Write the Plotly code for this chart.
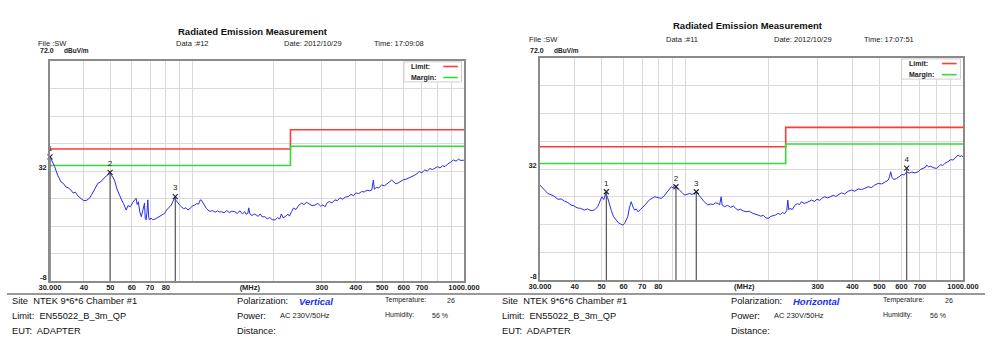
import plotly.graph_objects as go
import math

W, H = 994, 356

# ---------------- data ----------------
freq_v = [30.0, 30.5, 31.2, 32.0, 32.9, 33.6, 34.3, 35.0, 35.8, 36.5, 37.2, 38.0, 39.0, 39.8, 40.7,
          41.3, 41.9, 42.8, 43.9, 45.0, 46.0, 47.2, 48.3, 49.0, 49.7, 50.5, 51.8, 52.9, 54.1, 55.0,
          55.9, 57.2, 58.1, 59.3, 60.5, 61.4, 62.2, 62.8, 63.4, 64.2, 65.0, 65.8, 66.8, 67.2, 67.7,
          68.2, 68.7, 69.2, 69.7, 70.5, 71.5, 72.7, 74.0, 75.5, 77.2, 79.2, 80.5, 81.8, 83.8, 85.0,
          86.3, 87.5, 88.8, 90.0, 91.5, 93.0, 94.8, 96.5, 98.5, 100.4, 102.2, 104.0, 105.5, 107.0,
          108.0, 109.5, 111.2, 112.8, 114.4, 116.5, 119.0, 121.5, 124.0, 126.0, 128.0, 131.0, 134.0,
          137.0, 140.0, 143.3, 146.5, 150.0, 153.0, 156.0, 158.0, 160.3, 161.5, 163.0, 166.0, 169.0,
          172.0, 175.0, 178.0, 181.0, 185.0, 189.0, 193.0, 197.0, 202.0, 206.0, 210.0, 213.0, 216.0,
          220.0, 225.0, 228.0, 232.0, 236.0, 241.0, 247.0, 253.0, 258.0, 264.0, 270.0, 276.0, 283.0,
          290.0, 297.0, 303.0, 308.0, 314.0, 320.0, 327.0, 335.0, 342.0, 350.0, 357.0, 366.0, 375.0,
          384.0, 392.0, 400.0, 410.0, 420.0, 430.0, 440.0, 450.0, 458.0, 464.0, 468.0, 476.0, 486.0,
          498.0, 510.0, 520.0, 530.0, 542.0, 552.0, 562.0, 573.0, 585.0, 598.0, 612.0, 627.0, 642.0,
          656.0, 670.0, 684.0, 700.0, 718.0, 733.0, 750.0, 765.0, 782.0, 800.0, 816.0, 834.0, 852.0,
          872.0, 893.0, 914.0, 935.0, 955.0, 975.0, 995.0, 1000.0]
level_v = [37.2, 35.8, 33.6, 30.5, 28.1, 27.5, 26.2, 25.9, 25.1, 24.0, 24.3, 22.9, 22.1, 21.3, 21.2,
           21.8, 22.1, 23.6, 25.5, 27.5, 28.0, 29.3, 30.2, 30.6, 31.7, 30.5, 28.7, 25.4, 22.7, 21.5,
           20.2, 17.8, 19.4, 19.0, 20.6, 21.6, 22.1, 19.8, 20.8, 17.1, 15.4, 17.5, 20.3, 14.8, 14.2,
           17.0, 21.5, 15.2, 14.2, 14.9, 14.3, 14.4, 14.9, 15.5, 16.0, 16.6, 17.8, 18.6, 19.6, 21.0,
           22.1, 21.2, 20.2, 19.6, 18.9, 18.3, 18.6, 17.8, 18.5, 19.3, 19.6, 20.2, 19.9, 21.4,
           21.5, 20.4, 19.0, 18.4, 17.8, 17.3, 17.6, 17.0, 17.5, 17.1, 17.2, 16.8, 17.6,
           16.9, 17.4, 17.2, 16.6, 17.5, 16.4, 17.2, 16.3, 16.6, 18.6, 16.5, 15.8, 16.4,
           16.0, 15.5, 16.4, 15.3, 15.4, 14.6, 15.1, 14.3, 14.2, 15.0, 14.6, 16.4, 15.0,
           15.4, 16.3, 15.6, 17.2, 18.5, 18.0, 19.6, 20.3, 19.8, 20.6, 20.0, 19.4, 19.6,
           20.2, 19.2, 19.7, 19.0, 20.5, 20.9, 20.4, 21.5, 21.2, 22.3, 21.7, 22.5, 22.7,
           23.5, 23.0, 24.0, 23.8, 24.5, 24.4, 25.0, 24.8, 25.1, 28.7, 25.4, 26.0, 25.9,
           26.9, 26.6, 27.2, 27.8, 28.7, 28.0, 27.3, 27.7, 28.3, 28.8, 29.0, 29.4, 29.9,
           30.4, 30.9, 31.8, 31.4, 32.4, 32.0, 32.9, 32.5, 33.0, 33.6, 33.1, 33.9, 33.6,
           34.6, 35.2, 36.0, 35.6, 36.3, 35.8, 36.0, 35.7]

freq_h = [30.0, 30.6, 31.3, 32.0, 32.8, 33.6, 34.8, 35.8, 36.8, 37.8, 38.8, 39.8, 40.8, 42.0, 43.3,
          44.5, 45.8, 47.1, 48.4, 49.3, 50.1, 50.9, 51.8, 52.5, 53.3, 54.2, 55.2, 56.3, 57.5, 58.5,
          59.6, 60.5, 61.3, 62.1, 63.0, 63.9, 64.8, 65.7, 66.6, 67.6, 69.0, 70.5, 72.0, 73.3, 74.5,
          75.9, 77.5, 79.0, 80.4, 81.9, 83.6, 85.4, 87.2, 89.1, 90.4, 91.6, 93.0, 95.6, 97.5, 99.5,
          101.5, 103.9, 105.8, 107.8, 109.6, 112.0, 114.4, 117.0, 120.6, 123.0, 126.0, 128.5, 131.1,
          133.0, 134.7, 135.8, 138.5, 142.0, 145.5, 149.0, 152.0, 154.7, 158.0, 161.5, 165.5, 170.0,
          175.0, 179.0, 183.0, 187.0, 191.0, 195.0, 199.0, 203.0, 207.0, 211.0, 216.0, 220.0, 224.0,
          228.0, 232.0, 234.0, 236.0, 238.0, 243.0, 248.0, 253.0, 258.0, 262.0, 268.0, 274.0, 280.0,
          285.0, 292.0, 298.0, 305.0, 311.0, 318.0, 325.0, 333.0, 341.0, 348.0, 356.0, 365.0, 375.0,
          386.0, 397.0, 408.0, 420.0, 431.0, 443.0, 455.0, 468.0, 481.0, 495.0, 510.0, 524.0, 538.0,
          544.0, 549.0, 555.0, 563.0, 577.0, 590.0, 603.0, 615.0, 627.0, 640.0, 655.0, 670.0, 690.0,
          705.0, 720.0, 732.0, 740.0, 752.0, 765.0, 780.0, 803.0, 818.0, 832.0, 845.0, 859.0, 875.0,
          890.0, 905.0, 920.0, 935.0, 948.0, 960.0, 975.0, 990.0, 1000.0]
level_h = [26.2, 25.4, 24.2, 23.2, 22.8, 22.3, 21.1, 21.2, 20.4, 19.9, 19.0, 18.7, 18.0, 17.8, 17.2,
           17.6, 17.0, 17.2, 18.4, 20.5, 22.0, 21.0, 23.2, 21.8, 19.0, 17.0, 14.8, 13.6, 12.6, 12.2,
           11.8, 12.4, 13.4, 14.8, 18.2, 20.2, 18.4, 17.2, 17.6, 16.6, 17.4, 18.2, 19.3, 20.2, 21.0,
           21.4, 22.0, 21.8, 21.5, 21.4, 22.1, 23.2, 24.2, 25.6, 25.2, 26.2, 25.4, 24.4, 23.5, 22.6,
           23.0, 23.2, 22.8, 23.4, 23.8, 22.6, 21.4, 20.2, 19.0, 19.4, 19.2, 19.8, 19.6,
           19.1, 22.0, 19.0, 18.4, 18.9, 18.2, 18.6, 17.8, 17.2, 17.5, 16.9, 16.6, 16.8,
           16.0, 15.8, 15.4, 15.0, 15.3, 14.4, 14.2, 14.9, 15.1, 15.4, 16.0, 15.6, 16.3,
           15.9, 17.0, 20.8, 17.3, 17.8, 17.4, 18.9, 19.5, 19.2, 20.2, 19.6, 19.9, 20.4,
           20.8, 20.3, 21.1, 20.7, 21.5, 22.0, 21.6, 22.0, 22.5, 22.1, 22.6, 23.4, 23.0,
           24.0, 24.4, 24.0, 24.8, 24.6, 25.0, 25.6, 25.3, 26.2, 26.8, 26.6, 27.3, 28.0,
           29.2, 31.0, 29.0, 28.2, 28.6, 29.4, 30.0, 29.9, 31.0, 30.5, 30.9, 30.6, 31.0,
           31.9, 32.2, 32.6, 33.4, 32.8, 33.0, 32.5, 32.2, 33.1, 33.6, 33.2, 34.0, 34.4,
           34.8, 35.4, 35.2, 36.0, 36.3, 37.0, 36.5, 36.8, 36.4]

limit_freq = [30, 230, 230, 1000]
limit_level = [40, 40, 47, 47]
margin_level = [34, 34, 41, 41]

peaks_v_freq = [30.0, 49.9, 86.7]
peaks_v_level = [37.1, 31.5, 22.7]
peaks_h_freq = [52.0, 92.6, 109.6, 627.0]
peaks_h_level = [23.8, 25.6, 23.8, 32.3]

x_tickvals = [30, 40, 50, 60, 70, 80, 163, 300, 400, 500, 600, 700, 1000]
x_ticktext = ["30.000", "40", "50", "60", "70", "80", "(MHz)", "300", "400", "500", "600", "700", "1000.000"]
x_gridvals = [40, 50, 60, 70, 80, 90, 100, 200, 300, 400, 500, 600, 700, 800, 900]
y_gridvals = [-8, 2, 12, 22, 32, 42, 52, 62, 72]
y_min, y_max = -8, 72

panels = [
    dict(xs="x", ys="y", freq=freq_v, level=level_v, pf=peaks_v_freq, pl=peaks_v_level,
         px=(50, 464), py=(61, 281), data="Data :#12", time="Time: 17:09:08", pol="Vertical",
         head_y=31, info_y=43, ox=0, poff=0),
    dict(xs="x2", ys="y2", freq=freq_h, level=level_h, pf=peaks_h_freq, pl=peaks_h_level,
         px=(540, 963), py=(58, 280), data="Data :#11", time="Time: 17:07:51", pol="Horizontal",
         head_y=25, info_y=39, ox=497, poff=-7),
]

FONT = "Arial, Liberation Sans, sans-serif"
fig = go.Figure()
annotations = []
shapes = []


def px2x(x):
    return x / W


def px2y(y):
    return 1 - y / H


for i, p in enumerate(panels):
    xa = "xaxis" if i == 0 else "xaxis2"
    ya = "yaxis" if i == 0 else "yaxis2"
    xs, ys = p["xs"], p["ys"]
    # limit & margin
    fig.add_trace(go.Scatter(x=limit_freq, y=limit_level, mode="lines", xaxis=xs, yaxis=ys,
                             line=dict(color="#ff3a3a", width=1.6), showlegend=False, hoverinfo="skip"))
    fig.add_trace(go.Scatter(x=limit_freq, y=margin_level, mode="lines", xaxis=xs, yaxis=ys,
                             line=dict(color="#33dd33", width=1.6), showlegend=False, hoverinfo="skip"))
    # measurement
    fig.add_trace(go.Scatter(x=p["freq"], y=p["level"], mode="lines", xaxis=xs, yaxis=ys,
                             line=dict(color="#2b2bf0", width=1), showlegend=False))
    # peak drop lines
    lx, ly = [], []
    for f, v in zip(p["pf"], p["pl"]):
        lx += [f, f, None]
        ly += [v, y_min, None]
    fig.add_trace(go.Scatter(x=lx, y=ly, mode="lines", xaxis=xs, yaxis=ys,
                             line=dict(color="#555555", width=1.2), showlegend=False, hoverinfo="skip"))
    fig.add_trace(go.Scatter(x=p["pf"], y=p["pl"], mode="markers+text", xaxis=xs, yaxis=ys,
                             cliponaxis=False,
                             marker=dict(symbol="x-thin", size=5, line=dict(color="#222", width=1.1)),
                             text=[str(k + 1) for k in range(len(p["pf"]))], textposition="top center",
                             textfont=dict(family=FONT, size=8, color="#222"), showlegend=False))

    fig.layout[xa] = dict(
        type="log", range=[math.log10(30), 3],
        domain=[px2x(p["px"][0]), px2x(p["px"][1])], automargin=False,
        anchor=ys, tickmode="array", tickvals=x_tickvals, ticktext=x_ticktext,
        tickfont=dict(family=FONT, size=7.5, color="#222", weight="bold"), ticks="",
        ticklabelstandoff=-2,
        showgrid=False, zeroline=False,
        showline=True, mirror=True, linecolor="#8a8a8a", linewidth=1.5,
        minor=dict(tickmode="array", tickvals=x_gridvals, showgrid=True, gridcolor="#dadada",
                   gridwidth=1, ticks=""),
    )
    fig.layout[ya] = dict(
        range=[y_min, y_max], domain=[px2y(p["py"][1]), px2y(p["py"][0])], automargin=False,
        anchor=xs, tickmode="array", tickvals=[32, -8], ticktext=["32", "-8"],
        tickfont=dict(family=FONT, size=7.5, color="#222", weight="bold"), ticks="",
        showgrid=False, zeroline=False, ticklabelshift=-4,
        showline=True, mirror=True, linecolor="#8a8a8a", linewidth=1.5,
        minor=dict(tickmode="array", tickvals=y_gridvals, showgrid=True, gridcolor="#dadada",
                   gridwidth=1, ticks=""),
    )

    # legend box (axis-domain coords)
    xd = "x domain" if i == 0 else "x2 domain"
    yd = "y domain" if i == 0 else "y2 domain"
    shapes.append(dict(type="rect", xref=xd, yref=yd, x0=0.855, x1=0.994, y0=0.905, y1=0.996,
                       fillcolor="white", line=dict(color="#cfcfcf", width=1), layer="above"))
    shapes.append(dict(type="line", xref=xd, yref=yd, x0=0.95, x1=0.985, y0=0.975, y1=0.975,
                       line=dict(color="#ff3a3a", width=1.6), layer="above"))
    shapes.append(dict(type="line", xref=xd, yref=yd, x0=0.95, x1=0.985, y0=0.925, y1=0.925,
                       line=dict(color="#33dd33", width=1.6), layer="above"))
    for txt, yy in (("Limit:", 0.975), ("Margin:", 0.925)):
        annotations.append(dict(xref=xd, yref=yd, x=0.868, y=yy, text=txt, showarrow=False,
                                xanchor="left", yanchor="middle",
                                font=dict(family=FONT, size=7, color="#222", weight="bold")))

    ox = p["ox"]
    # header
    cx = (p["px"][0] + p["px"][1]) / 2 - 4
    annotations.append(dict(xref="paper", yref="paper", x=px2x(cx), y=px2y(p["head_y"]),
                            text="Radiated Emission Measurement", showarrow=False,
                            xanchor="center", yanchor="middle",
                            font=dict(family=FONT, size=9.5, color="#111", weight="bold")))
    hdr = [("File :SW", 36), (p["data"], 174), ("Date: 2012/10/29", 282), (p["time"], 372)]
    for txt, hx in hdr:
        annotations.append(dict(xref="paper", yref="paper", x=px2x(hx + ox + (p["poff"] if hx > 36 else -6 * i)),
                                y=px2y(p["info_y"]), text=txt, showarrow=False,
                                xanchor="left", yanchor="middle",
                                font=dict(family=FONT, size=7.5, color="#222")))
    annotations.append(dict(xref="paper", yref="paper", x=px2x(p["px"][0] - 12), y=px2y(50),
                            text="72.0", showarrow=False, xanchor="left", yanchor="middle",
                            font=dict(family=FONT, size=7, color="#222", weight="bold")))
    annotations.append(dict(xref="paper", yref="paper", x=px2x(p["px"][0] + 12), y=px2y(50),
                            text="dBuV/m", showarrow=False, xanchor="left", yanchor="middle",
                            font=dict(family=FONT, size=6.5, color="#222", weight="bold")))

    # footer
    bx = ox + (10 if i == 0 else 3)
    for txt, yy in (("Site  NTEK 9*6*6 Chamber #1", 301), ("Limit:  EN55022_B_3m_QP", 316),
                    ("EUT:  ADAPTER", 331)):
        annotations.append(dict(xref="paper", yref="paper", x=px2x(bx), y=px2y(yy), text=txt,
                                showarrow=False, xanchor="left", yanchor="middle",
                                font=dict(family=FONT, size=9.3, color="#111")))
    mx = ox + (235 if i == 0 else 232)
    for txt, yy in (("Polarization:", 301), ("Power:", 316), ("Distance:", 331)):
        annotations.append(dict(xref="paper", yref="paper", x=px2x(mx), y=px2y(yy), text=txt,
                                showarrow=False, xanchor="left", yanchor="middle",
                                font=dict(family=FONT, size=9.3, color="#111")))
    annotations.append(dict(xref="paper", yref="paper", x=px2x(mx + 62), y=px2y(301), text=p["pol"],
                            showarrow=False, xanchor="left", yanchor="middle",
                            font=dict(family=FONT, size=9.5, color="#1a2ff0", weight="bold", style="italic")))
    annotations.append(dict(xref="paper", yref="paper", x=px2x(mx + 43), y=px2y(315), text="AC 230V/50Hz",
                            showarrow=False, xanchor="left", yanchor="middle",
                            font=dict(family=FONT, size=7.5, color="#222")))
    tx = ox + (383 if i == 0 else 384)
    for txt, xx, yy in (("Temperature:", tx, 300), ("26", tx + 62, 300), ("Humidity:", tx, 315),
                        ("56 %", tx + 47, 315)):
        annotations.append(dict(xref="paper", yref="paper", x=px2x(xx), y=px2y(yy), text=txt,
                                showarrow=False, xanchor="left", yanchor="middle",
                                font=dict(family=FONT, size=7, color="#222")))

shapes.append(dict(type="line", xref="paper", yref="paper", x0=px2x(7), x1=px2x(985),
                   y0=px2y(294), y1=px2y(294), line=dict(color="#777", width=1.5)))

fig.update_layout(width=W, height=H, margin=dict(l=0, r=0, t=0, b=0, autoexpand=False),
                  paper_bgcolor="white", plot_bgcolor="white", showlegend=False,
                  annotations=annotations, shapes=shapes)
fig.write_html("out.html", config={"displayModeBar": False},
               post_script="document.body.style.margin='0';document.body.style.overflow='hidden';")
